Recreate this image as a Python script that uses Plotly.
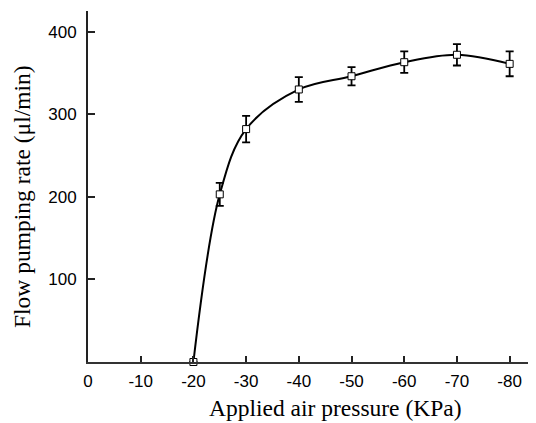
import plotly.graph_objects as go

pressure = [-20, -25, -30, -40, -50, -60, -70, -80]
flow_rate = [0, 203, 282, 330, 346, 363, 372, 361]
flow_err = [0, 14, 16, 15, 11, 13, 13, 15]

x_tickvals = [0, -10, -20, -30, -40, -50, -60, -70, -80]
x_ticktext = ["0", "-10", "-20", "-30", "-40", "-50", "-60", "-70", "-80"]
y_tickvals = [100, 200, 300, 400]
y_ticktext = ["100", "200", "300", "400"]

fig = go.Figure()
fig.add_trace(go.Scatter(
    x=pressure, y=flow_rate,
    mode="lines",
    line=dict(color="black", width=2, shape="spline", smoothing=1.0),
    cliponaxis=False,
    hoverinfo="skip",
    showlegend=False,
))
fig.add_trace(go.Scatter(
    x=pressure, y=flow_rate,
    mode="markers",
    marker=dict(symbol="square", size=7, color="white",
                line=dict(color="black", width=1)),
    error_y=dict(type="data", array=flow_err, visible=True,
                 color="black", thickness=1.8, width=4),
    cliponaxis=False,
    showlegend=False,
))

axis_font = dict(family="Liberation Sans, Arial, sans-serif", size=17, color="black")
title_font = dict(family="Liberation Serif, Times New Roman, serif", size=23.5, color="black")

# page body has an 8px default margin; figure is sized to fill the rest
fig.update_layout(
    width=528, height=415,
    margin=dict(l=80, r=0, t=3, b=61),
    paper_bgcolor="white", plot_bgcolor="white",
    xaxis=dict(
        range=[0, -85],
        tickvals=x_tickvals, ticktext=x_ticktext,
        ticks="inside", ticklen=6, tickwidth=1.5, tickcolor="#222",
        showline=True, linecolor="#333", linewidth=2,
        showgrid=False, zeroline=False,
        tickfont=axis_font, ticklabelstandoff=3,
    ),
    yaxis=dict(
        range=[0, 425],
        tickvals=y_tickvals, ticktext=y_ticktext,
        ticks="inside", ticklen=7, tickwidth=1.5, tickcolor="#222",
        showline=True, linecolor="#222", linewidth=2,
        showgrid=False, zeroline=False,
        tickfont=axis_font, ticklabelstandoff=6,
    ),
    annotations=[
        dict(text="Applied air pressure (KPa)", xref="paper", yref="paper",
             x=(335 - 88) / 448, y=-(393 - 362) / 351, xanchor="center", yanchor="top",
             showarrow=False, font=title_font),
        dict(text="Flow pumping rate (μl/min)", xref="paper", yref="paper",
             x=(22 - 88) / 448, y=(362 - 197) / 351, xanchor="center", yanchor="middle",
             textangle=-90, showarrow=False, font=title_font),
    ],
)

fig.write_html("out.html")
